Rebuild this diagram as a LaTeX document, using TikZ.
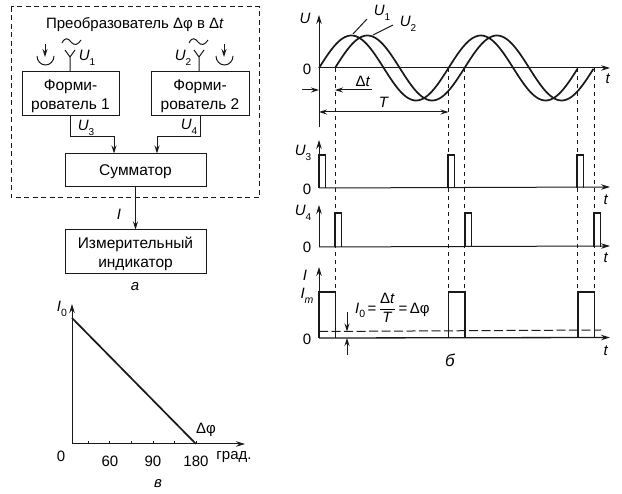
\documentclass[tikz,border=0pt]{standalone}
\usepackage{fontspec}
\setmainfont{Liberation Sans}
\usetikzlibrary{arrows.meta}
\newcommand{\uu}[1]{\textit{U}\raisebox{-0.3em}{\fontsize{10}{10}\selectfont #1}}
\newcommand{\iidx}[1]{\textit{I}\raisebox{-0.3em}{\fontsize{10.5}{10}\selectfont #1}}
\newcommand{\lowr}{\rule{0pt}{15pt}}
\tikzset{
 ink/.style={draw=black!90},
 thinline/.style={ink,line width=1pt},
 blockbox/.style={thinline,rectangle,inner sep=0pt,align=center,font=\fontsize{15.5}{18.5}\selectfont},
 conn/.style={thinline,-{Stealth[length=8pt,width=5pt]}},
 both/.style={thinline,{Stealth[length=8pt,width=5pt]}-{Stealth[length=8pt,width=5pt]}},
 axis/.style={thinline,-{Stealth[length=9pt,width=5.5pt]}},
 wave/.style={ink,line width=1.7pt},
 pulse/.style={ink,line width=1.3pt},
 drop/.style={thinline,dash pattern=on 4.5pt off 3.5pt},
 lab/.style={inner sep=0pt,font=\fontsize{15}{18}\selectfont},
}
\begin{document}
\begin{tikzpicture}[x=1pt,y=-1pt]
\useasboundingbox (0,0) rectangle (622,494);
\fill[white] (0,0) rectangle (622,494);
% dashed frame
\draw[thinline,dash pattern=on 5pt off 3.5pt] (11,7) rectangle (259,198);
\node[lab] (title) at (135,25) {Преобразователь Δφ в Δ\textit{t}};
% blocks
\node[blockbox,minimum width=97pt,minimum height=44pt] (f1) at (70.5,94) {\lowr Форми-\\рователь 1};
\node[blockbox,minimum width=98pt,minimum height=44pt] (f2) at (200,94) {\lowr Форми-\\рователь 2};
\node[blockbox,minimum width=141pt,minimum height=33pt] (sum) at (135.5,170) {\lowr Сумматор};
\node[blockbox,minimum width=141pt,minimum height=44pt] (ind) at (135.5,252) {\lowr Измерительный\\индикатор};
% antennas
\coordinate (a1) at (70,57); \coordinate (a2) at (199,57);
\draw[thinline] (f1.north -| a1) -- (a1) -- (65,50) (a1) -- (75,50);
\draw[thinline] (f2.north -| a2) -- (a2) -- (194,50) (a2) -- (204,50);
\draw[thinline] (62,43) .. controls (65,37) and (68,38) .. (71,42) .. controls (74,46) and (78,45) .. (81,40);
\draw[thinline] (189,43) .. controls (192,37) and (195,38) .. (198,42) .. controls (201,46) and (205,45) .. (208,40);
% switches
\draw[thinline] (37,56) arc[start angle=180,end angle=360,x radius=8.5,y radius=-9];
\draw[conn] (45,44) -- (45,57);
\draw[thinline] (216,56) arc[start angle=180,end angle=360,x radius=8.5,y radius=-9];
\draw[conn] (224,44) -- (224,57);
\node[lab] (lu1) at (87,58) {\uu{1}};
\node[lab] (lu2) at (183,58) {\uu{2}};
% connectors
\coordinate (j1) at (70,137); \coordinate (j2) at (200,137);
\draw[conn] (f1.south -| j1) -- (j1) -- (114,137) -- (114,153.5);
\draw[conn] (f2.south -| j2) -- (j2) -- (157,137) -- (157,153.5);
\draw[conn] (sum.south) -- (ind.north);
\node[lab] (lu3) at (86,128) {\uu{3}};
\node[lab] (lu4) at (189,127) {\uu{4}};
\node[lab] (li) at (119,214) {\textit{I}};
\node[lab] (la) at (135,287) {\textit{а}};
% wave chart
\draw[axis] (319,127) -- (319,15);
\draw[axis] (319,68) -- (610,68);
\draw[wave] plot[domain=0:258.5,samples=120] ({319+\x},{68-32.5*sin(\x/129.5*360)});
\draw[wave] plot[domain=0:258.5,samples=120] ({335+\x},{68-32.5*sin(\x/129.5*360)});
\foreach \xx/\yy in {335/292,448.5/292,464.5/292,577.5/292,594/292}
  \draw[drop] (\xx,68) -- (\xx,\yy);
\draw[thinline] (353,34) -- (367,19);
\draw[thinline] (373,35) -- (393,25);
\node[lab] (lu) at (305,18) {\textit{U}};
\node[lab] at (382,13) {\uu{1}};
\node[lab] at (408,24) {\uu{2}};
\node[lab] at (307,69) {0};
\node[lab] at (608,79) {\textit{t}};
\draw[conn] (302,90) -- (319,90);
\draw[conn] (372,90) -- (335,90);
\node[lab] at (363,81) {Δ\textit{t}};
\draw[both] (319,112) -- (448.5,112);
\node[lab] at (384,102) {\textit{T}};
% U3
\draw[axis] (319,188) -- (319,140);
\draw[axis] (319,188) -- (610,187);
\foreach \xx in {319,448,577}
  \draw[pulse] (\xx,188) -- (\xx,155) -- (\xx+6.5,155) -- (\xx+6.5,188);
\node[lab] at (303,153) {\uu{3}};
\node[lab] at (307,189) {0};
\node[lab] at (606,200) {\textit{t}};
% U4
\draw[axis] (319,247) -- (319,205);
\draw[axis] (319,247) -- (610,246);
\foreach \xx in {335,465,594}
  \draw[pulse] (\xx,247) -- (\xx,213) -- (\xx+6.5,213) -- (\xx+6.5,247);
\node[lab] at (303,213) {\uu{4}};
\node[lab] at (307,247) {0};
\node[lab] at (606,258) {\textit{t}};
% I
\draw[axis] (319,338) -- (319,267);
\draw[axis,line width=1.3pt] (319,338) -- (610,337.5);
\foreach \xx in {319,448.5,578}
  \draw[ink,line width=1.4pt] (\xx,338) -- (\xx,292) -- (\xx+16.5,292) -- (\xx+16.5,338);
\draw[thinline,dash pattern=on 9pt off 3.5pt] (319,331.5) -- (601,330);
\draw[conn] (347,312) -- (347,331.5);
\draw[conn] (347,355) -- (347,338);
\node[lab] at (305,275) {\textit{I}};
\node[lab] at (307,296) {\iidx{\textit{m}}};
\node[lab] at (307,339) {0};
\node[lab] at (606,351) {\textit{t}};
\node[lab,anchor=west] (form) at (355,308) {\iidx{0}\,=\,$\displaystyle{\mbox{Δ\textit{t}}\over\mbox{\textit{T}}}$\,=\,Δφ};
\node[lab,font=\fontsize{17}{18}\selectfont\itshape] at (450,360) {б};
% chart v
\draw[axis] (72,444) -- (72,304);
\draw[axis] (72,444) -- (245,444);
\draw[ink,line width=1.7pt] (72,318) -- (196,444);
\foreach \xx in {88,109,131,153,174,196}
  \draw[thinline] (\xx,444) -- (\xx,441);
\node[lab] at (62,309) {\iidx{0}};
\node[lab] at (61,456) {0};
\node[lab] at (110,461) {60};
\node[lab] at (153,461) {90};
\node[lab] at (196,461) {180};
\node[lab] at (234,457) {град.};
\node[lab] at (206,430) {Δφ};
\node[lab] at (158,484) {\textit{в}};
\end{tikzpicture}
\end{document}
